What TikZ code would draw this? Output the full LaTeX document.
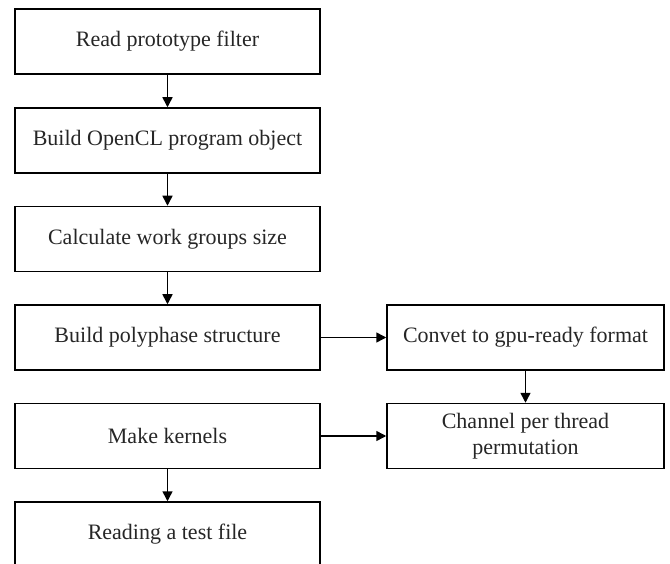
\documentclass[tikz,border=0pt]{standalone}
\usepackage{fontspec}
\setmainfont{Liberation Serif}
\usetikzlibrary{arrows.meta}
\begin{document}
\begin{tikzpicture}[x=1pt,y=-1pt,
  stepbox/.style={draw=black, line width=1.5pt, inner sep=0pt,
    minimum width=305pt, minimum height=65pt, align=center,
    text=black!85, font=\fontsize{22}{26.4}\selectfont},
  sidebox/.style={stepbox, minimum width=277pt},
  flow/.style={line width=1.5pt, -{Triangle[width=10pt,length=10pt]}}]
  \useasboundingbox (0,0) rectangle (670,564);
  % main column
  \node[stepbox] (read)   at (167.5,41.5)  {Read prototype filter};
  \node[stepbox] (build)  at (167.5,140.5) {Build OpenCL program object};
  \node[stepbox] (calc)   at (167.5,239)   {Calculate work groups size};
  \node[stepbox] (poly)   at (167.5,337.5) {Build polyphase structure};
  \node[stepbox] (kern)   at (167.5,436)   {Make kernels};
  \node[stepbox] (test)   at (167.5,534.5) {Reading a test file};
  % side column
  \node[sidebox] (conv)   at (525.5,337.5) {Convet to gpu-ready format};
  \node[sidebox] (perm)   at (525.5,436)   {Channel per thread\\permutation};
  % connectors
  \draw[flow] (read) -- (build);
  \draw[flow] (build) -- (calc);
  \draw[flow] (calc) -- (poly);
  \draw[flow] (kern) -- (test);
  \draw[flow] (poly) -- (conv);
  \draw[flow] (conv) -- (perm);
  \draw[flow] (kern) -- (perm);
\end{tikzpicture}
\end{document}
